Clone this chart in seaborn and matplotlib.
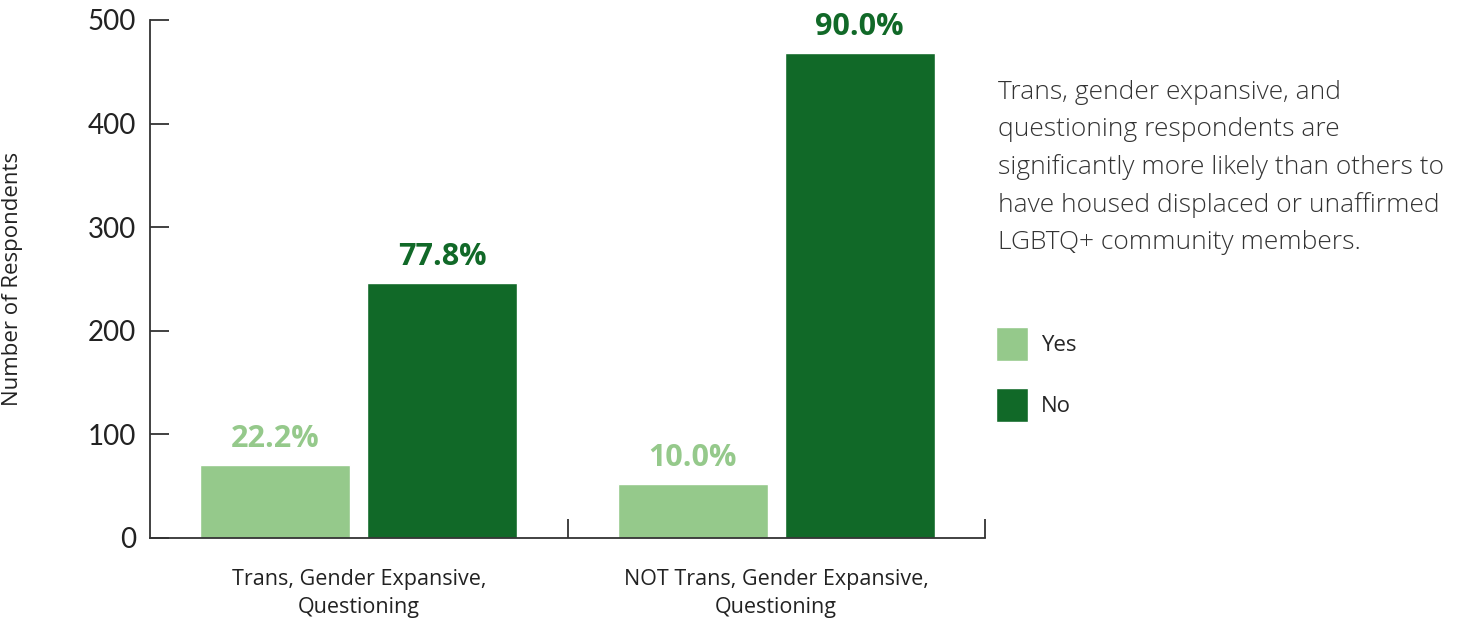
import pandas as pd
import matplotlib
matplotlib.use("Agg")
import matplotlib.pyplot as plt
import seaborn as sns

# Values
groups = ["Trans, Gender Expansive,\nQuestioning", "NOT Trans, Gender Expansive,\nQuestioning"]
answers = ["Yes", "No"]
yes_counts = [70, 52]
no_counts = [246, 468]
y_ticks = [0, 100, 200, 300, 400, 500]
note = ("Trans, gender expansive, and\nquestioning respondents are\n"
        "significantly more likely than others to\nhave housed displaced or unaffirmed\n"
        "LGBTQ+ community members.")

light_green = "#95c98b"
dark_green = "#116928"

sns.set_style("white")
plt.rcParams['font.family'] = ['Open Sans', 'DejaVu Sans']

df = pd.DataFrame({
    "group": groups * 2,
    "answer": ["Yes"] * 2 + ["No"] * 2,
    "count": yes_counts + no_counts,
})
totals = df.groupby("group")["count"].transform("sum")
df["pct"] = df["count"] / totals * 100

fig = plt.figure(figsize=(14.57, 6.19), dpi=100)
ax = fig.add_axes([150 / 1457, 1 - 538 / 619, 835 / 1457, 518 / 619])

sns.barplot(data=df, x="group", y="count", hue="answer", order=groups,
            hue_order=answers, palette=[light_green, dark_green],
            width=0.8, gap=0.1, saturation=1, ax=ax, legend=True)

# percentage labels above each bar
for container, ans, colour in zip(ax.containers, answers, [light_green, dark_green]):
    sub = df[df["answer"] == ans].set_index("group").loc[groups]
    labels = [f"{p:.1f}%" for p in sub["pct"]]
    ax.bar_label(container, labels=labels, padding=8, color=colour,
                 fontsize=22, fontweight="bold")

ax.set_xlim(-0.5, 1.5)
ax.set_ylim(0, 500)
ax.set_yticks(y_ticks)
ax.set_yticklabels([str(t) for t in y_ticks], fontsize=20, family=['Lato', 'DejaVu Sans'],
                   color="#222222")
ax.tick_params(axis="y", left=True, direction="in", length=14, width=1.3, pad=10,
               color="#333333")
ax.tick_params(axis="x", which="major", length=0, pad=22, labelsize=15.5,
               labelcolor="#222222")
ax.set_xticks([0.5, 1.5], minor=True)
ax.tick_params(axis="x", which="minor", bottom=True, direction="in", length=14,
               width=1.3, color="#333333")
for lab in ax.get_xticklabels():
    lab.set_linespacing(1.45)

ax.set_xlabel("")
ax.set_ylabel("Number of Respondents", fontsize=16, color="#222222")
ax.yaxis.set_label_coords(-0.152, 0.5)

for side in ["top", "right"]:
    ax.spines[side].set_visible(False)
for side in ["left", "bottom"]:
    ax.spines[side].set_color("#333333")
    ax.spines[side].set_linewidth(1.3)

handles, lbls = ax.get_legend_handles_labels()
ax.legend(handles, lbls, loc="upper left", bbox_to_anchor=(996 / 1457, 1 - 327 / 619),
          bbox_transform=fig.transFigure, frameon=False, fontsize=16,
          handlelength=1.44, handleheight=1.97, labelspacing=1.22,
          handletextpad=0.6, borderpad=0, borderaxespad=0)

fig.text(998 / 1457, 1 - 80 / 619, note, fontsize=19, fontweight="light",
         color="#333333", va="top", ha="left", linespacing=1.62)

fig.savefig("out.png", dpi=100)
